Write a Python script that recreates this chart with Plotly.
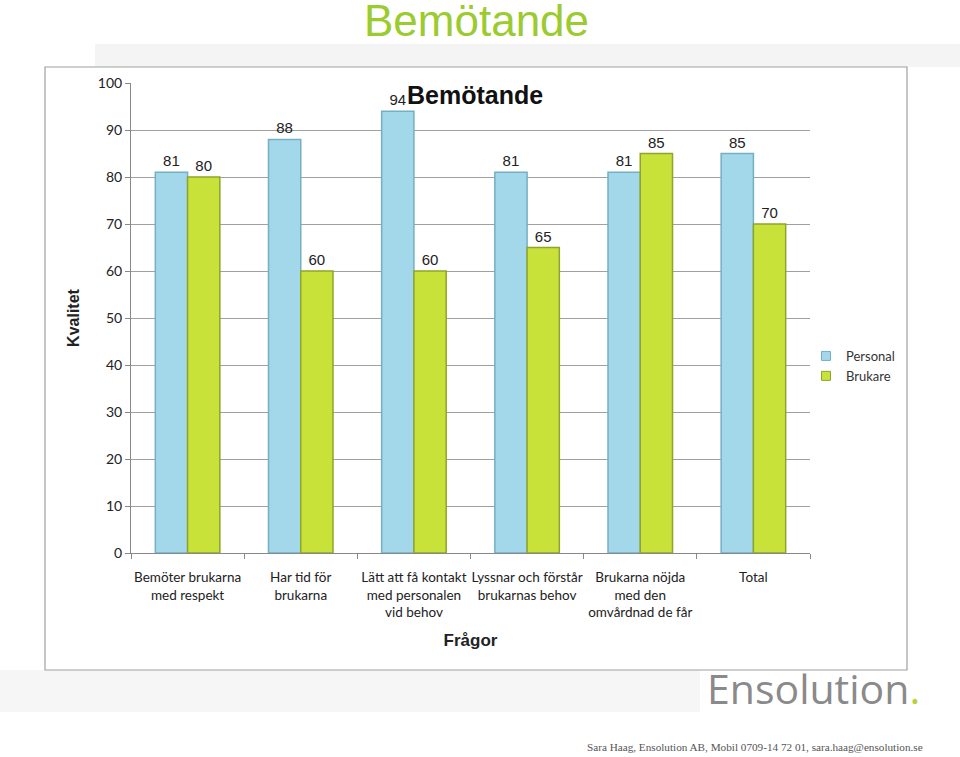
import plotly.graph_objects as go

categories = ["Bemöter brukarna<br>med respekt", "Har tid för<br>brukarna",
              "Lätt att få kontakt<br>med personalen<br>vid behov",
              "Lyssnar och förstår<br>brukarnas behov",
              "Brukarna nöjda<br>med den<br>omvårdnad de får", "Total"]
personal = [81, 88, 94, 81, 81, 85]
brukare = [80, 60, 60, 65, 85, 70]
y_ticks = [0, 10, 20, 30, 40, 50, 60, 70, 80, 90, 100]

PL, PR, PT, PB = 131, 810, 83, 553


def xp(px):
    return (px - PL) / (PR - PL)


def yp(py):
    return (PB - py) / (PB - PT)


BLUE, BLUE_LINE = "#A2D8EA", "#74AFC4"
GREEN, GREEN_LINE = "#C9E23A", "#8FA52A"
label_font = dict(family="Liberation Sans Narrow, Arial Narrow, Arial", size=15, color="#222")

fig = go.Figure()
fig.add_trace(go.Bar(
    name="Personal", x=categories, y=personal, text=personal,
    textposition="outside", cliponaxis=False, textfont=label_font, showlegend=False,
    marker=dict(color=BLUE, line=dict(color=BLUE_LINE, width=1.5)),
))
fig.add_trace(go.Bar(
    name="Brukare", x=categories, y=brukare, text=brukare,
    textposition="outside", cliponaxis=False, textfont=label_font, showlegend=False,
    marker=dict(color=GREEN, line=dict(color=GREEN_LINE, width=1.5)),
))
# legend entries with small square swatches
for nm, c, lc in [("Personal", BLUE, BLUE_LINE), ("Brukare", GREEN, GREEN_LINE)]:
    fig.add_trace(go.Scatter(name=nm, x=[None], y=[None], mode="markers",
                             marker=dict(symbol="square", size=9, color=c,
                                         line=dict(color=lc, width=1))))

fig.update_layout(
    width=960, height=757,
    paper_bgcolor="white", plot_bgcolor="white",
    barmode="group", bargap=0.43, bargroupgap=0,
    margin=dict(l=PL, r=960 - PR, t=PT, b=757 - PB),
    font=dict(family="Lato, Liberation Sans Narrow, Arial", size=13, color="#222"),
    legend=dict(x=xp(806), y=yp(366), xanchor="left", yanchor="middle",
                font=dict(family="Lato, Liberation Sans, Arial", size=13, color="#333"),
                bgcolor="rgba(0,0,0,0)", itemwidth=30, tracegroupgap=6),
    xaxis=dict(
        showline=True, linecolor="#888", linewidth=1,
        ticks="outside", ticklen=5, tickcolor="#888",
        tickson="boundaries", ticklabelstandoff=12, tickangle=0,
        tickfont=dict(family="Lato, Liberation Sans Narrow, Arial", size=13.5, color="#222"),
        title=dict(text="<b>Frågor</b>", font=dict(family="Liberation Sans Narrow, Arial", size=17, color="#222"),
                   standoff=14),
    ),
    yaxis=dict(
        range=[0, 100], tickvals=y_ticks, showgrid=True, gridcolor="#A0A0A0", gridwidth=1,
        showline=True, linecolor="#888", linewidth=1,
        ticks="outside", ticklen=5, tickcolor="#888",
        tickfont=dict(family="Lato, Liberation Sans, Arial", size=14, color="#222"),
        title=dict(text="<b>Kvalitet</b>", font=dict(family="Liberation Sans, Arial", size=16, color="#222"),
                   standoff=14),
        zeroline=False,
    ),
)

# background bands and frame
fig.add_shape(type="rect", xref="paper", yref="paper", x0=xp(95), x1=xp(960), y0=yp(67), y1=yp(44),
              fillcolor="#F4F4F4", line=dict(width=0), layer="below")
fig.add_shape(type="rect", xref="paper", yref="paper", x0=xp(0), x1=xp(700), y0=yp(712), y1=yp(670),
              fillcolor="#F6F6F6", line=dict(width=0), layer="below")
fig.add_shape(type="rect", xref="paper", yref="paper",
              x0=xp(45), x1=xp(907), y0=yp(670), y1=yp(67),
              fillcolor="white", line=dict(color="#A0A0A0", width=1.2), layer="below")

fig.add_annotation(text="Bemötande", xref="paper", yref="paper",
                   x=xp(476), y=yp(20), xanchor="center", yanchor="middle", showarrow=False,
                   font=dict(family="Liberation Sans, Arial", size=44, color="#9BCB2E"))
fig.add_annotation(text="<b>Bemötande</b>", xref="paper", yref="paper",
                   x=xp(475), y=yp(95), xanchor="center", yanchor="middle", showarrow=False,
                   font=dict(family="Liberation Sans Narrow, Arial Narrow, Arial", size=25, color="#111"))
fig.add_annotation(text="Ensolution<span style='color:#B5D334'>.</span>", xref="paper", yref="paper",
                   x=xp(922), y=yp(688), xanchor="right", yanchor="middle", showarrow=False,
                   font=dict(family="Open Sans, Lato, DejaVu Sans", size=41, color="#8A8A8A"))
fig.add_annotation(text="Sara Haag, Ensolution AB, Mobil 0709-14 72 01, sara.haag@ensolution.se",
                   xref="paper", yref="paper",
                   x=xp(585), y=yp(747), xanchor="left", yanchor="middle", showarrow=False,
                   font=dict(family="Liberation Serif, DejaVu Serif", size=11.2, color="#555"))

fig.write_html("out.html", config={"displayModeBar": False},
               post_script="document.body.style.margin='0';")
